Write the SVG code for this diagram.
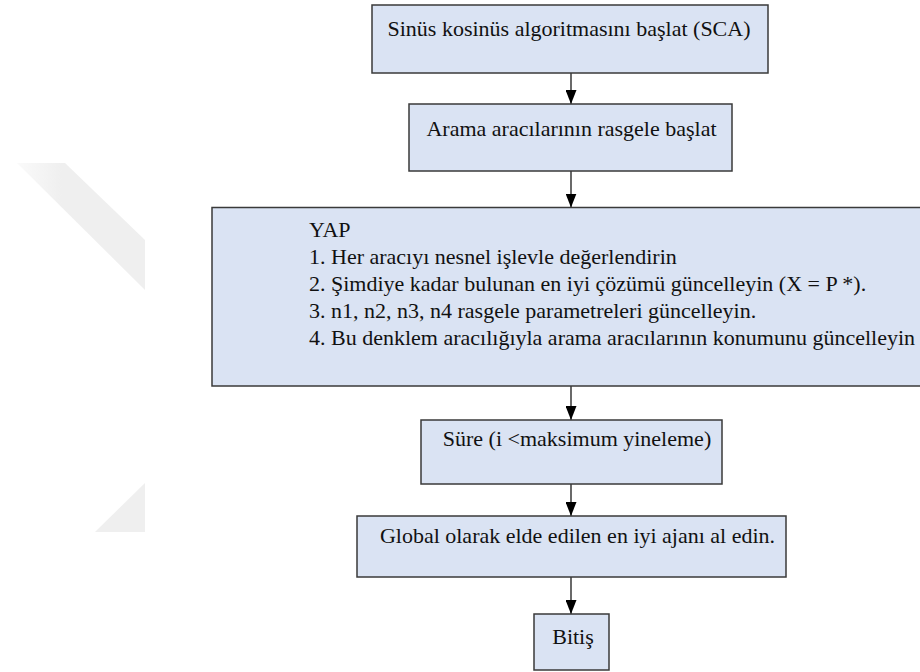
<svg xmlns="http://www.w3.org/2000/svg" width="920" height="672" viewBox="0 0 920 672">
<style>
.box{fill:#dae3f3;stroke:#3a3a3a;stroke-width:1.5}
.t{font-family:"Liberation Serif","Times New Roman",serif;font-size:22px;fill:#111}
.c{text-anchor:middle}
.conn{stroke:#1a1a1a;stroke-width:1.3;fill:none;marker-end:url(#ah)}
</style>
<defs>
<marker id="ah" markerUnits="userSpaceOnUse" markerWidth="14" markerHeight="11" refX="14" refY="5.5" orient="auto">
<path d="M0,0 L14,5.5 L0,11 z" fill="#000"/>
</marker>
<linearGradient id="wm" x1="0" y1="0" x2="1" y2="0">
<stop offset="0" stop-color="#efefef" stop-opacity="0.3"/>
<stop offset="0.35" stop-color="#efefef" stop-opacity="1"/>
</linearGradient>
</defs>
<rect width="920" height="672" fill="#fff"/>
<g id="watermark">
<polygon points="17,163 65,163 145,240 145,290" fill="url(#wm)"/>
<polygon points="145,483 145,532 95,532" fill="#efefef"/>
</g>
<g id="connectors">
<line class="conn" x1="571" y1="73" x2="571" y2="104"/>
<line class="conn" x1="571" y1="171" x2="571" y2="207.5"/>
<line class="conn" x1="571" y1="386" x2="571" y2="420"/>
<line class="conn" x1="571" y1="484" x2="571" y2="516"/>
<line class="conn" x1="571" y1="577" x2="571" y2="614"/>
</g>
<g id="start">
<rect class="box" x="372" y="5" width="396" height="68"/>
<text class="t c" x="569" y="36">Sinüs kosinüs algoritmasını başlat (SCA)</text>
</g>
<g id="init">
<rect class="box" x="409" y="104" width="323" height="67"/>
<text class="t c" x="571.5" y="136">Arama aracılarının rasgele başlat</text>
</g>
<g id="do">
<rect class="box" x="212" y="207.5" width="720" height="178.5"/>
<text class="t" x="309" y="237">YAP</text>
<text class="t" x="309" y="264">1. Her aracıyı nesnel işlevle değerlendirin</text>
<text class="t" x="309" y="291">2. Şimdiye kadar bulunan en iyi çözümü güncelleyin (X = P *).</text>
<text class="t" x="309" y="318">3. n1, n2, n3, n4 rasgele parametreleri güncelleyin.</text>
<text class="t" x="309" y="345">4. Bu denklem aracılığıyla arama aracılarının konumunu güncelleyin</text>
</g>
<g id="while">
<rect class="box" x="421" y="420" width="301" height="64"/>
<text class="t c" x="577" y="446">Süre (i &lt;maksimum yineleme)</text>
</g>
<g id="best">
<rect class="box" x="357" y="516" width="429" height="61"/>
<text class="t c" x="577.5" y="543">Global olarak elde edilen en iyi ajanı al edin.</text>
</g>
<g id="end">
<rect class="box" x="534" y="614" width="75" height="56"/>
<text class="t c" x="573" y="644">Bitiş</text>
</g>
</svg>
